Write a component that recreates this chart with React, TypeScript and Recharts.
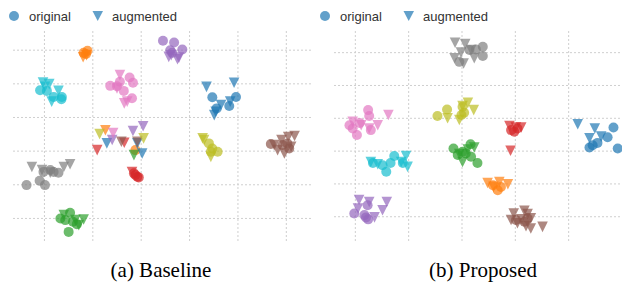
import React from "react";
import { ScatterChart, Scatter, XAxis, YAxis, CartesianGrid } from "recharts";

// tab10 colours, one per class
const CLASS_COLORS = [
  "#1f77b4", "#ff7f0e", "#2ca02c", "#d62728", "#9467bd",
  "#8c564b", "#e377c2", "#7f7f7f", "#bcbd22", "#17becf",
];
// 0 blue, 1 orange, 2 green, 3 red, 4 purple, 5 brown, 6 pink, 7 gray, 8 olive, 9 cyan

type Pt = { c: number; x: number; y: number };

const baselineOriginal: Pt[] = [
  { c: 0, x: 14.7, y: 16.0 }, { c: 0, x: 19.6, y: 16.1 }, { c: 0, x: 18.2, y: 13.4 }, { c: 0, x: 15.6, y: 12.7 },
  { c: 1, x: -11.9, y: 29.2 }, { c: 1, x: -11.1, y: 29.8 }, { c: 1, x: -11.4, y: 28.9 }, { c: 1, x: -1.2, y: 0.3 },
  { c: 2, x: -16.7, y: -20.0 }, { c: 2, x: -14.7, y: -18.3 }, { c: 2, x: -15.7, y: -20.5 },
  { c: 2, x: -14.1, y: -21.0 }, { c: 2, x: -15.0, y: -24.0 }, { c: 2, x: -13.3, y: -21.7 },
  { c: 3, x: -1.5, y: -6.6 }, { c: 3, x: -0.8, y: -7.6 }, { c: 3, x: -1.2, y: -7.1 }, { c: 3, x: -0.5, y: -7.8 },
  { c: 4, x: 4.5, y: 32.8 }, { c: 4, x: 6.8, y: 32.3 }, { c: 4, x: 8.5, y: 30.2 }, { c: 4, x: 6.0, y: 30.0 }, { c: 4, x: 6.4, y: 29.2 },
  { c: 5, x: 26.8, y: 2.1 }, { c: 5, x: 29.2, y: 1.8 }, { c: 5, x: 30.2, y: 2.3 }, { c: 5, x: 30.6, y: 0.8 },
  { c: 6, x: -6.4, y: 19.4 }, { c: 6, x: -4.4, y: 20.6 }, { c: 6, x: -2.4, y: 21.9 }, { c: 6, x: -1.7, y: 20.3 },
  { c: 6, x: -3.6, y: 17.9 }, { c: 6, x: -1.9, y: 15.7 }, { c: 6, x: -5.0, y: 19.3 },
  { c: 7, x: -23.7, y: -10.1 }, { c: 7, x: -21.0, y: -8.8 }, { c: 7, x: -19.9, y: -10.1 }, { c: 7, x: -20.2, y: -6.2 },
  { c: 7, x: -18.1, y: -6.2 }, { c: 7, x: -17.1, y: -6.4 }, { c: 7, x: -18.8, y: -5.6 },
  { c: 8, x: 14.0, y: 2.3 }, { c: 8, x: 14.4, y: -0.2 }, { c: 8, x: 15.8, y: -0.2 }, { c: 8, x: 14.7, y: 0.8 },
  { c: 9, x: -20.9, y: 18.1 }, { c: 9, x: -19.5, y: 17.9 }, { c: 9, x: -18.1, y: 16.1 }, { c: 9, x: -16.5, y: 15.4 }, { c: 9, x: -16.4, y: 16.1 },
];

const baselineAugmented: Pt[] = [
  { c: 0, x: 13.5, y: 19.1 }, { c: 0, x: 19.2, y: 20.3 }, { c: 0, x: 16.5, y: 13.7 }, { c: 0, x: 18.4, y: 14.7 },
  { c: 0, x: 15.4, y: 11.7 }, { c: 0, x: 15.1, y: 10.7 }, { c: 0, x: -7.1, y: 2.3 }, { c: 0, x: -0.8, y: 2.3 }, { c: 0, x: 0.2, y: -0.7 },
  { c: 1, x: -12.0, y: 27.9 }, { c: 1, x: -11.3, y: 28.5 }, { c: 1, x: -7.4, y: 6.2 },
  { c: 2, x: -16.0, y: -19.0 }, { c: 2, x: -11.9, y: -20.3 }, { c: 2, x: -13.6, y: -20.5 }, { c: 2, x: -12.9, y: -22.0 }, { c: 2, x: -1.5, y: -1.2 },
  { c: 3, x: -1.9, y: -6.2 }, { c: 3, x: -9.1, y: 0.3 }, { c: 3, x: -3.5, y: 2.5 },
  { c: 4, x: 5.7, y: 28.0 }, { c: 4, x: 7.5, y: 27.3 }, { c: 4, x: 6.2, y: 28.5 }, { c: 4, x: 7.8, y: 27.8 },
  { c: 4, x: -1.7, y: 6.0 }, { c: 4, x: 0.4, y: 7.4 }, { c: 4, x: -6.0, y: 3.3 },
  { c: 5, x: 27.5, y: 1.8 }, { c: 5, x: 29.0, y: 3.3 }, { c: 5, x: 30.4, y: 4.2 }, { c: 5, x: 31.7, y: 4.5 },
  { c: 5, x: 28.2, y: 0.3 }, { c: 5, x: 29.6, y: -0.7 }, { c: 5, x: 31.0, y: 1.3 }, { c: 5, x: -4.1, y: 2.8 }, { c: 5, x: -0.8, y: 2.8 },
  { c: 6, x: -4.4, y: 22.6 }, { c: 6, x: -5.0, y: 18.6 }, { c: 6, x: -3.5, y: 14.2 }, { c: 6, x: -2.9, y: 14.7 }, { c: 6, x: -5.8, y: 5.4 },
  { c: 7, x: -22.6, y: -4.7 }, { c: 7, x: -20.5, y: -5.6 }, { c: 7, x: -18.8, y: -6.4 }, { c: 7, x: -16.0, y: -4.7 }, { c: 7, x: -14.7, y: -3.9 },
  { c: 8, x: 13.0, y: 3.3 }, { c: 8, x: 14.4, y: -1.7 }, { c: 8, x: 12.7, y: 3.8 }, { c: 8, x: -8.6, y: 5.1 }, { c: 8, x: 0.5, y: 3.8 },
  { c: 9, x: -20.3, y: 20.4 }, { c: 9, x: -19.0, y: 19.9 }, { c: 9, x: -17.1, y: 17.9 }, { c: 9, x: -18.5, y: 14.7 }, { c: 9, x: -19.9, y: 19.1 },
];

const proposedOriginal: Pt[] = [
  { c: 0, x: 28.4, y: 7.2 }, { c: 0, x: 27.3, y: 4.2 }, { c: 0, x: 24.5, y: 1.8 }, { c: 0, x: 23.9, y: 1.1 }, { c: 0, x: 29.2, y: 0.8 }, { c: 0, x: 25.4, y: 2.5 },
  { c: 1, x: 6.7, y: -11.9 }, { c: 1, x: 5.8, y: -10.4 }, { c: 1, x: 7.3, y: -10.9 },
  { c: 2, x: -1.6, y: 0.8 }, { c: 2, x: 1.6, y: 2.1 }, { c: 2, x: -0.8, y: -1.2 }, { c: 2, x: 2.9, y: -3.6 },
  { c: 2, x: 0.7, y: -0.7 }, { c: 2, x: 1.7, y: -1.7 }, { c: 2, x: 0.1, y: -0.2 },
  { c: 3, x: 9.2, y: 6.4 }, { c: 3, x: 9.8, y: 5.9 }, { c: 3, x: 10.4, y: 6.9 },
  { c: 4, x: -20.2, y: -19.0 }, { c: 4, x: -17.7, y: -16.5 }, { c: 4, x: -18.0, y: -20.2 }, { c: 4, x: -17.6, y: -20.8 }, { c: 4, x: -18.3, y: -19.5 },
  { c: 5, x: 10.1, y: -21.0 }, { c: 5, x: 11.7, y: -21.5 }, { c: 5, x: 12.3, y: -20.5 },
  { c: 6, x: -17.6, y: 12.5 }, { c: 6, x: -17.4, y: 10.7 }, { c: 6, x: -19.2, y: 8.6 }, { c: 6, x: -20.5, y: 6.9 },
  { c: 6, x: -19.7, y: 4.9 }, { c: 6, x: -17.1, y: 6.4 }, { c: 6, x: -21.1, y: 7.9 },
  { c: 7, x: 3.9, y: 31.8 }, { c: 7, x: 3.9, y: 29.0 }, { c: 7, x: 2.6, y: 31.0 }, { c: 7, x: 1.4, y: 30.8 }, { c: 7, x: -0.5, y: 27.2 },
  { c: 8, x: -4.6, y: 10.7 }, { c: 8, x: -2.8, y: 12.7 }, { c: 8, x: 0.1, y: 13.5 }, { c: 8, x: -0.1, y: 11.0 }, { c: 8, x: 0.4, y: 11.7 },
  { c: 9, x: -16.7, y: -3.6 }, { c: 9, x: -14.9, y: -4.3 }, { c: 9, x: -14.2, y: -6.3 }, { c: 9, x: -13.4, y: -3.6 }, { c: 9, x: -12.7, y: -1.5 }, { c: 9, x: -11.1, y: -3.6 },
];

const proposedAugmented: Pt[] = [
  { c: 0, x: 21.7, y: 8.2 }, { c: 0, x: 24.9, y: 6.9 }, { c: 0, x: 23.9, y: 3.9 }, { c: 0, x: 26.1, y: 4.4 },
  { c: 1, x: 4.8, y: -9.7 }, { c: 1, x: 8.6, y: -10.1 }, { c: 1, x: 7.0, y: -9.4 }, { c: 1, x: 5.9, y: -10.9 },
  { c: 2, x: 2.3, y: 1.1 }, { c: 2, x: 1.1, y: 0.5 }, { c: 2, x: 0.1, y: -3.3 }, { c: 2, x: -0.5, y: -0.9 },
  { c: 3, x: 8.9, y: 7.6 }, { c: 3, x: 11.1, y: 7.2 }, { c: 3, x: 10.1, y: 7.2 }, { c: 3, x: 9.1, y: 0.1 },
  { c: 4, x: -19.3, y: -14.9 }, { c: 4, x: -17.4, y: -15.5 }, { c: 4, x: -14.1, y: -15.5 },
  { c: 4, x: -14.9, y: -18.0 }, { c: 4, x: -16.4, y: -20.2 }, { c: 4, x: -19.5, y: -17.5 },
  { c: 5, x: 9.7, y: -19.0 }, { c: 5, x: 11.7, y: -18.2 }, { c: 5, x: 12.3, y: -19.2 }, { c: 5, x: 12.9, y: -20.5 }, { c: 5, x: 10.4, y: -22.0 },
  { c: 5, x: 12.0, y: -22.9 }, { c: 5, x: 12.9, y: -23.6 }, { c: 5, x: 15.1, y: -23.1 }, { c: 5, x: 9.2, y: -21.0 }, { c: 5, x: 11.1, y: -20.8 },
  { c: 6, x: -13.8, y: 11.0 }, { c: 6, x: -15.8, y: 7.9 }, { c: 6, x: -17.4, y: 6.9 }, { c: 6, x: -20.5, y: 8.9 }, { c: 6, x: -18.9, y: 7.9 },
  { c: 7, x: -1.3, y: 33.0 }, { c: 7, x: 0.6, y: 32.6 }, { c: 7, x: -1.4, y: 28.3 }, { c: 7, x: 0.3, y: 26.7 },
  { c: 7, x: -0.2, y: 30.0 }, { c: 7, x: 2.3, y: 28.3 }, { c: 7, x: 1.7, y: 30.8 },
  { c: 8, x: -2.7, y: 10.0 }, { c: 8, x: -0.5, y: 9.5 }, { c: 8, x: 1.1, y: 14.7 }, { c: 8, x: 2.2, y: 12.5 }, { c: 8, x: 0.1, y: 13.7 },
  { c: 9, x: -17.1, y: -3.3 }, { c: 9, x: -15.8, y: -4.0 }, { c: 9, x: -10.5, y: -1.5 }, { c: 9, x: -10.2, y: -4.8 }, { c: 9, x: -11.4, y: -3.3 },
];

const baselineXTicks = [-20, -10, 0, 10, 20, 30];
const proposedXTicks = [-20, -10, 0, 10, 20];
const yTicks = [-20, -10, 0, 10, 20, 30];

const ALPHA = 0.7;

const DotShape = (p: any) => (
  <circle cx={p.cx} cy={p.cy} r={5} fill={p.fill} fillOpacity={ALPHA} />
);

const TriShape = (p: any) => {
  const s = 5.3;
  const pts = `${p.cx - s},${p.cy - s} ${p.cx + s},${p.cy - s} ${p.cx},${p.cy + s}`;
  return <polygon points={pts} fill={p.fill} fillOpacity={ALPHA} />;
};

// ticks stay computed (the grid needs them) but draw nothing
const hiddenTick = { fill: "transparent", fontSize: 1 };

function Legend({ left }: { left: number }) {
  return (
    <svg width={200} height={30} style={{ position: "absolute", left, top: 0 }}>
      <circle cx={14} cy={16} r={5} fill={CLASS_COLORS[0]} fillOpacity={ALPHA} />
      <text x={29} y={20.5} fontSize={13} fontFamily="Liberation Sans, Arial, sans-serif" fill="#333">
        original
      </text>
      <polygon points="92.5,11 103,11 97.7,21" fill={CLASS_COLORS[0]} fillOpacity={ALPHA} />
      <text x={112} y={20.5} fontSize={13} fontFamily="Liberation Sans, Arial, sans-serif" fill="#333">
        augmented
      </text>
    </svg>
  );
}

function Panel({
  left, width, marginLeft, original, augmented, xDomain, xTicks, yDomain, caption, captionX,
}: {
  left: number; width: number; marginLeft: number; original: Pt[]; augmented: Pt[];
  xDomain: [number, number]; xTicks: number[]; yDomain: [number, number]; caption: string; captionX: number;
}) {
  return (
    <div style={{ position: "absolute", left, top: 0, width, height: 282 }}>
      <ScatterChart width={width} height={282} margin={{ top: 31, right: 0, bottom: 39, left: marginLeft }}>
        <CartesianGrid stroke="#cfcfcf" strokeDasharray="2 2" syncWithTicks />
        <XAxis type="number" dataKey="x" domain={xDomain} ticks={xTicks} allowDataOverflow interval={0}
          height={0} tick={hiddenTick} axisLine={false} tickLine={false} />
        <YAxis type="number" dataKey="y" domain={yDomain} ticks={yTicks} allowDataOverflow interval={0}
          width={0} tick={hiddenTick} axisLine={false} tickLine={false} />
        {CLASS_COLORS.map((col, i) => (
          <Scatter key={"o" + i} data={original.filter((d) => d.c === i)} fill={col}
            shape={DotShape} isAnimationActive={false} />
        ))}
        {CLASS_COLORS.map((col, i) => (
          <Scatter key={"a" + i} data={augmented.filter((d) => d.c === i)} fill={col}
            shape={TriShape} isAnimationActive={false} />
        ))}
      </ScatterChart>
      <Legend left={0} />
      <div style={{
        position: "absolute", left: captionX - 80, width: 160, top: 258, textAlign: "center",
        fontFamily: "Liberation Serif, Times New Roman, serif", fontSize: 21, color: "#000", lineHeight: "24px",
      }}>
        {caption}
      </div>
    </div>
  );
}

export default function App() {
  return (
    <div style={{ position: "absolute", left: 0, top: 0, width: 622, height: 282, background: "#fff" }}>
      <Panel left={0} width={311} marginLeft={13} original={baselineOriginal} augmented={baselineAugmented}
        xDomain={[-26.5, 35.1]} xTicks={baselineXTicks} yDomain={[-27.3, 35.7]}
        caption="(a) Baseline" captionX={161} />
      <Panel left={311} width={311} marginLeft={23} original={proposedOriginal} augmented={proposedAugmented}
        xDomain={[-24, 30]} xTicks={proposedXTicks} yDomain={[-28, 36.6]}
        caption="(b) Proposed" captionX={172} />
    </div>
  );
}
